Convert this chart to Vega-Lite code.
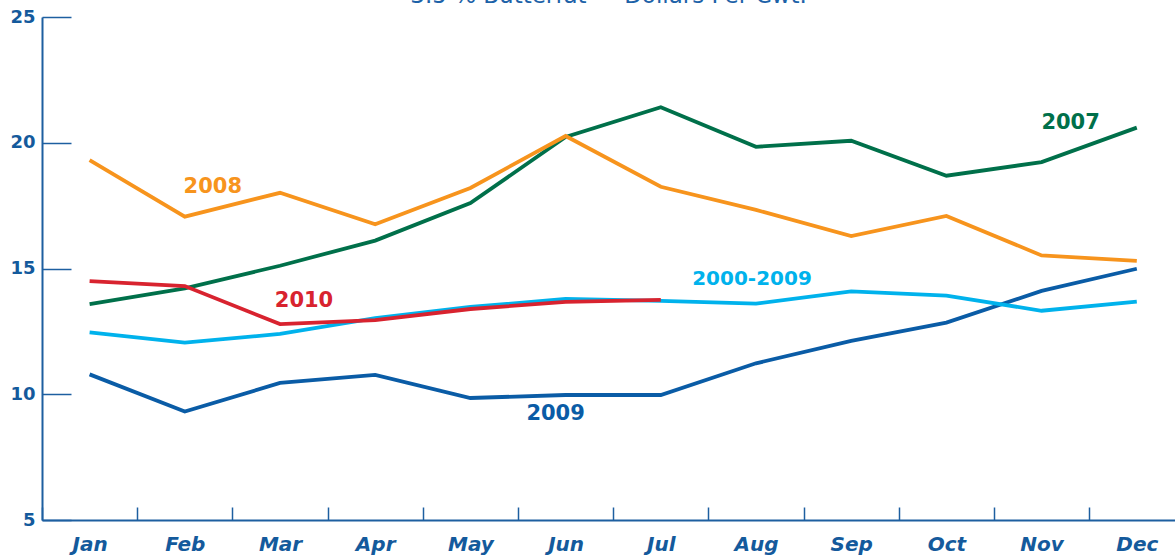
{
  "$schema": "https://vega.github.io/schema/vega-lite/v6.json",
  "width": 1133,
  "height": 503,
  "autosize": {"type": "none"},
  "padding": {"top": 17, "left": 42, "right": 0, "bottom": 35},
  "background": "white",
  "title": {
    "text": "3.5 % Butterfat — Dollars Per Cwt.",
    "font": "DejaVu Sans",
    "fontSize": 23,
    "fontWeight": "normal",
    "color": "#1d62a8",
    "anchor": "middle",
    "offset": 0
  },
  "config": {
    "view": {"stroke": null},
    "axis": {"grid": false, "domainColor": "#1d5fa0", "tickColor": "#1d5fa0", "labelColor": "#145a9c", "domainWidth": 2, "tickWidth": 1.5}
  },
  "data": {
    "values": [
      {"month": "Jan", "series": "2007", "value": 13.58},
      {"month": "Feb", "series": "2007", "value": 14.21},
      {"month": "Mar", "series": "2007", "value": 15.11},
      {"month": "Apr", "series": "2007", "value": 16.11},
      {"month": "May", "series": "2007", "value": 17.6},
      {"month": "Jun", "series": "2007", "value": 20.23},
      {"month": "Jul", "series": "2007", "value": 21.41},
      {"month": "Aug", "series": "2007", "value": 19.84},
      {"month": "Sep", "series": "2007", "value": 20.08},
      {"month": "Oct", "series": "2007", "value": 18.69},
      {"month": "Nov", "series": "2007", "value": 19.23},
      {"month": "Dec", "series": "2007", "value": 20.6},
      {"month": "Jan", "series": "2008", "value": 19.31},
      {"month": "Feb", "series": "2008", "value": 17.06},
      {"month": "Mar", "series": "2008", "value": 18.01},
      {"month": "Apr", "series": "2008", "value": 16.76},
      {"month": "May", "series": "2008", "value": 18.2},
      {"month": "Jun", "series": "2008", "value": 20.27},
      {"month": "Jul", "series": "2008", "value": 18.25},
      {"month": "Aug", "series": "2008", "value": 17.33},
      {"month": "Sep", "series": "2008", "value": 16.29},
      {"month": "Oct", "series": "2008", "value": 17.09},
      {"month": "Nov", "series": "2008", "value": 15.52},
      {"month": "Dec", "series": "2008", "value": 15.3},
      {"month": "Jan", "series": "2009", "value": 10.79},
      {"month": "Feb", "series": "2009", "value": 9.31},
      {"month": "Mar", "series": "2009", "value": 10.45},
      {"month": "Apr", "series": "2009", "value": 10.77},
      {"month": "May", "series": "2009", "value": 9.85},
      {"month": "Jun", "series": "2009", "value": 9.97},
      {"month": "Jul", "series": "2009", "value": 9.97},
      {"month": "Aug", "series": "2009", "value": 11.23},
      {"month": "Sep", "series": "2009", "value": 12.12},
      {"month": "Oct", "series": "2009", "value": 12.85},
      {"month": "Nov", "series": "2009", "value": 14.11},
      {"month": "Dec", "series": "2009", "value": 14.99},
      {"month": "Jan", "series": "2000-2009", "value": 12.46},
      {"month": "Feb", "series": "2000-2009", "value": 12.05},
      {"month": "Mar", "series": "2000-2009", "value": 12.4},
      {"month": "Apr", "series": "2000-2009", "value": 13.03},
      {"month": "May", "series": "2000-2009", "value": 13.47},
      {"month": "Jun", "series": "2000-2009", "value": 13.79},
      {"month": "Jul", "series": "2000-2009", "value": 13.71},
      {"month": "Aug", "series": "2000-2009", "value": 13.6},
      {"month": "Sep", "series": "2000-2009", "value": 14.09},
      {"month": "Oct", "series": "2000-2009", "value": 13.92},
      {"month": "Nov", "series": "2000-2009", "value": 13.32},
      {"month": "Dec", "series": "2000-2009", "value": 13.68},
      {"month": "Jan", "series": "2010", "value": 14.5},
      {"month": "Feb", "series": "2010", "value": 14.3},
      {"month": "Mar", "series": "2010", "value": 12.79},
      {"month": "Apr", "series": "2010", "value": 12.95},
      {"month": "May", "series": "2010", "value": 13.39},
      {"month": "Jun", "series": "2010", "value": 13.67},
      {"month": "Jul", "series": "2010", "value": 13.75}
    ]
  },
  "layer": [
    {
      "mark": {"type": "line", "strokeWidth": 3.8},
      "encoding": {
        "x": {
          "field": "month", "type": "ordinal", "bandPosition": 0.5,
          "sort": ["Jan","Feb","Mar","Apr","May","Jun","Jul","Aug","Sep","Oct","Nov","Dec"],
          "scale": {"type": "band", "domain": ["Jan","Feb","Mar","Apr","May","Jun","Jul","Aug","Sep","Oct","Nov","Dec"], "range": [0, 1142.4], "paddingInner": 0, "paddingOuter": 0},
          "axis": {"title": null, "labelAngle": 0, "tickBand": "extent", "tickSize": -13, "labelPadding": 27, "labelFont": "DejaVu Sans", "labelFontSize": 20, "labelFontWeight": "bold", "labelFontStyle": "italic"}
        },
        "y": {
          "field": "value", "type": "quantitative",
          "scale": {"domain": [5, 25], "nice": false, "zero": false},
          "axis": {"title": null, "values": [5, 10, 15, 20, 25], "tickSize": -29, "labelPadding": 36, "labelFont": "DejaVu Sans", "labelFontSize": 18, "labelFontWeight": "bold"}
        },
        "color": {
          "field": "series", "type": "nominal", "legend": null,
          "scale": {"domain": ["2000-2009", "2009", "2008", "2007", "2010"], "range": ["#00b2ec", "#0a5ca6", "#f7941d", "#00704a", "#d8232f"]}
        }
      }
    },
    {
      "data": {"values": [{"month": "Feb", "value": 18.24, "label": "2008"}]},
      "mark": {"type": "text", "dx": 28, "font": "DejaVu Sans", "fontSize": 21, "fontWeight": "bold", "color": "#f7941d", "baseline": "middle", "align": "center"},
      "encoding": {"x": {"field": "month", "type": "ordinal", "bandPosition": 0.5}, "y": {"field": "value", "type": "quantitative"}, "text": {"field": "label"}}
    },
    {
      "data": {"values": [{"month": "Mar", "value": 13.71, "label": "2010"}]},
      "mark": {"type": "text", "dx": 24, "font": "DejaVu Sans", "fontSize": 21, "fontWeight": "bold", "color": "#d8232f", "baseline": "middle", "align": "center"},
      "encoding": {"x": {"field": "month", "type": "ordinal", "bandPosition": 0.5}, "y": {"field": "value", "type": "quantitative"}, "text": {"field": "label"}}
    },
    {
      "data": {"values": [{"month": "Aug", "value": 14.58, "label": "2000-2009"}]},
      "mark": {"type": "text", "dx": -4, "font": "DejaVu Sans", "fontSize": 20, "fontWeight": "bold", "color": "#00b2ec", "baseline": "middle", "align": "center"},
      "encoding": {"x": {"field": "month", "type": "ordinal", "bandPosition": 0.5}, "y": {"field": "value", "type": "quantitative"}, "text": {"field": "label"}}
    },
    {
      "data": {"values": [{"month": "Nov", "value": 20.79, "label": "2007"}]},
      "mark": {"type": "text", "dx": 29, "font": "DejaVu Sans", "fontSize": 21, "fontWeight": "bold", "color": "#00704a", "baseline": "middle", "align": "center"},
      "encoding": {"x": {"field": "month", "type": "ordinal", "bandPosition": 0.5}, "y": {"field": "value", "type": "quantitative"}, "text": {"field": "label"}}
    },
    {
      "data": {"values": [{"month": "Jun", "value": 9.21, "label": "2009"}]},
      "mark": {"type": "text", "dx": -10, "font": "DejaVu Sans", "fontSize": 21, "fontWeight": "bold", "color": "#0a5ca6", "baseline": "middle", "align": "center"},
      "encoding": {"x": {"field": "month", "type": "ordinal", "bandPosition": 0.5}, "y": {"field": "value", "type": "quantitative"}, "text": {"field": "label"}}
    }
  ]
}
